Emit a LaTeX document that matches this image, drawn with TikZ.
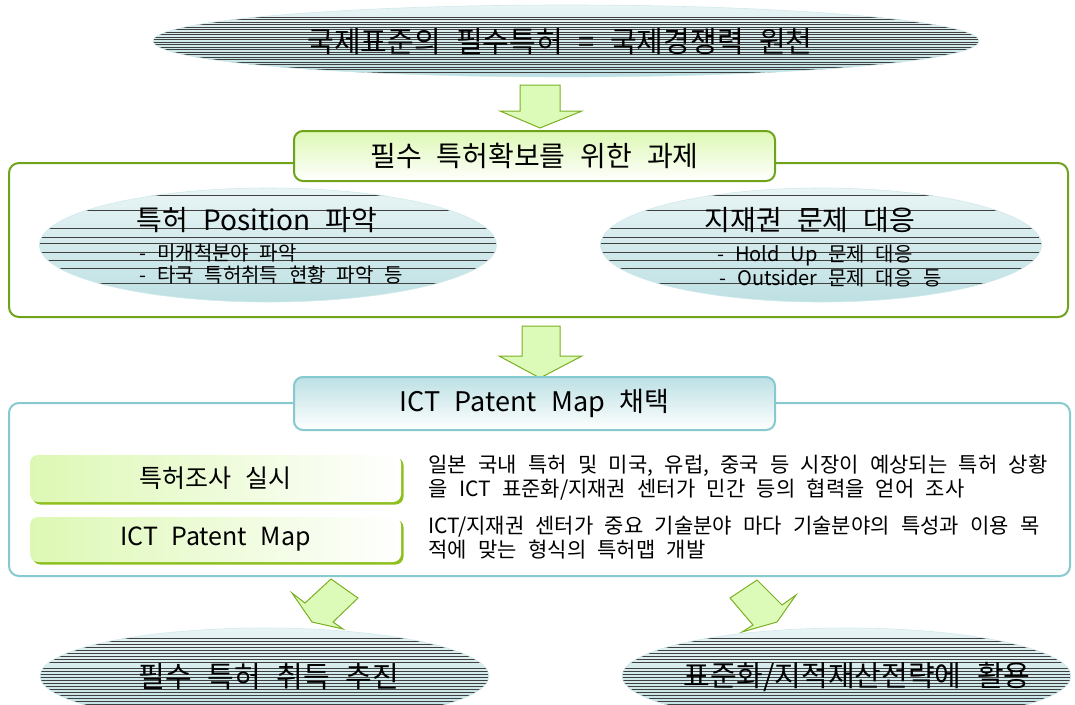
\documentclass[tikz,border=0pt]{standalone}
\usepackage{fontspec}
\setmainfont{Noto Sans CJK KR}[WordSpace=2.4]
\usetikzlibrary{shapes.geometric,calc,shadows}
\definecolor{gline}{HTML}{6FA31C}
\definecolor{gfill}{HTML}{DDF8B4}
\definecolor{bline}{HTML}{86C9CE}
\definecolor{bfill}{HTML}{BCE0E4}
\definecolor{efill}{HTML}{BEE0E3}
\definecolor{shadowg}{HTML}{8DBF1E}
\definecolor{afill}{HTML}{DDFBB8}
\definecolor{aline}{HTML}{7BAF22}
\begin{document}
\begin{tikzpicture}[x=1pt,y=-1pt,
  stripes/.style={path picture={\foreach \d in {#1}{\draw[black!75,line width=0.55pt] ($(path picture bounding box.north west)+(0,\d)$) -- ($(path picture bounding box.north east)+(0,\d)$);}}},
  oval/.style={ellipse, draw=efill!70!white, line width=0.6pt, top color=efill!35!white, bottom color=efill, inner sep=0pt},
  frame/.style={draw, line width=2pt, rounded corners=10pt, inner sep=0pt},
  headbox/.style={draw, line width=2pt, rounded corners=9pt, inner sep=0pt},
  gbox/.style={rounded corners=8pt, inner sep=0pt, left color=gfill, right color=white, minimum width=371, font=\fontsize{25}{28}\selectfont,
     drop shadow={shadow xshift=2.5pt, shadow yshift=-2.5pt, fill=shadowg, opacity=1}},
  barrow/.style={draw=aline, fill=afill, line width=1pt, line join=miter},
  big/.style={font=\fontsize{29}{32}\selectfont},
  mid/.style={font=\fontsize{28}{30}\selectfont},
  sub/.style={font=\fontsize{20}{22}\selectfont, anchor=west},
  desc/.style={font=\fontsize{21}{24}\selectfont, anchor=west, align=left}
]
\useasboundingbox (0,0) rectangle (1075,704);

% top ellipse
\node[oval, minimum width=826, minimum height=72, stripes={12,14.5,...,67}] (topell) at (566,41) {};
\node[big] (toptxt) at (560,42) {국제표준의 필수특허 = 국제경쟁력 원천};

% arrow 1
\draw[barrow] (520,85) -- (560,85) -- (560,111) -- (582,111) -- (540,128) -- (500,111) -- (520,111) -- cycle;

% green frame
\node[frame, draw=gline, minimum width=1059, minimum height=154] (gframe) at (538.5,240) {};
\node[headbox, draw=gline, top color=gfill, bottom color=white, minimum width=481, minimum height=50, font=\fontsize{28}{30}\selectfont] (ghead) at (534.5,156) {필수 특허확보를 위한 과제};

% middle ellipses
\node[oval, minimum width=457, minimum height=114, stripes={7,22,40,49,55,64,72,80,95}] (lell) at (268,245) {};
\node[mid] (ltitle) at (257,220) {특허 Position 파악};
\node[sub] (ls1) at (136,253) {- 미개척분야 파악};
\node[sub] (ls2) at (136,275) {- 타국 특허취득 현황 파악 등};

\node[oval, minimum width=441, minimum height=114, stripes={7,22,40,49,55,64,72,80,95}] (rell) at (821,245) {};
\node[mid] (rtitle) at (810,220) {지재권 문제 대응};
\node[sub] (rs1) at (714,256) {- Hold Up 문제 대응};
\node[sub] (rs2) at (716,278) {- Outsider 문제 대응 등};

% arrow 2
\draw[barrow] (522,326) -- (560,326) -- (560,356) -- (582,356) -- (540,378) -- (499,356) -- (522,356) -- cycle;

% blue frame
\node[frame, draw=bline, minimum width=1061, minimum height=173] (bframe) at (539.5,489.5) {};
\node[headbox, draw=bline, top color=bfill, bottom color=white, minimum width=481, minimum height=53, font=\fontsize{27}{30}\selectfont] (bhead) at (534.5,403.5) {ICT Patent Map 채택};

\node[gbox, minimum height=47] (box1) at (215.5,478.5) {특허조사 실시};
\node[gbox, minimum height=45] (box2) at (215.5,539.5) {ICT Patent Map};
\node[desc] (d1) at (425,478) {일본 국내 특허 및 미국, 유럽, 중국 등 시장이 예상되는 특허 상황\\을 ICT 표준화/지재권 센터가 민간 등의 협력을 얻어 조사};
\node[desc] (d2) at (425,538) {ICT/지재권 센터가 중요 기술분야 마다 기술분야의 특성과 이용 목\\적에 맞는 형식의 특허맵 개발};

% diagonal arrows
\draw[barrow] (292,593) -- (305,603) -- (331,579) -- (358,598) -- (333,622) -- (343,629) -- (312,622) -- cycle;
\draw[barrow] (730,598) -- (757,580) -- (782,605) -- (796,595) -- (777,622) -- (742,632) -- (753,625) -- cycle;

% bottom ellipses
\node[oval, minimum width=449, minimum height=96, stripes={10,13,...,34,40,43,...,76}] (bl) at (264.5,676) {};
\node[big] (bltxt) at (269,677) {필수 특허 취득 추진};
\node[oval, minimum width=449, minimum height=96, stripes={10,13,...,34,40,43,...,76}] (br) at (846.5,676) {};
\node[big] (brtxt) at (857,677) {표준화/지적재산전략에 활용};
\end{tikzpicture}
\end{document}
